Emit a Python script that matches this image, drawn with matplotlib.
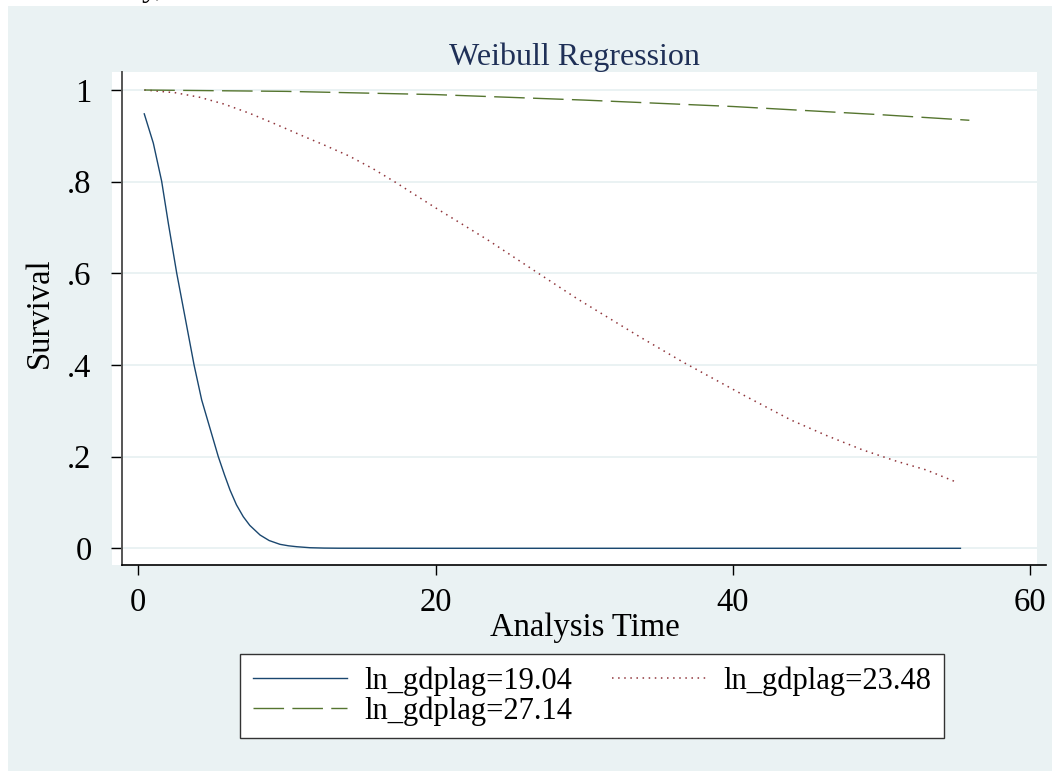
import numpy as np
import matplotlib.pyplot as plt
from matplotlib.patches import Rectangle
from matplotlib.lines import Line2D

plt.rcParams['font.family'] = ['Liberation Serif', 'DejaVu Serif']

# survival curves
t_low = [0.40, 1.01, 1.57, 2.02, 2.58, 3.14, 3.75, 4.26, 4.82, 5.38, 5.8, 6.17, 6.6,
         7.06, 7.5, 8.19, 8.8, 9.53, 10.1, 10.66, 11.55, 12.5, 13.5, 20.0, 30.0,
         40.0, 50.0, 55.3]
s_low = [0.948, 0.884, 0.801, 0.709, 0.601, 0.505, 0.400, 0.324, 0.262, 0.200, 0.160,
         0.127, 0.095, 0.069, 0.050, 0.029, 0.017, 0.0087, 0.0055, 0.0035, 0.0013,
         0.0005, 0.0002, 0.0, 0.0, 0.0, 0.0, 0.0]

t_mid = [0.4, 0.8, 2.5, 4.15, 5.8, 7.5, 9.2, 10.9, 12.5, 14.18, 15.8, 17.33, 19.89,
         23.5, 27.1, 29.5, 33.7, 36.6, 40.9, 43.9, 46.3, 48.7, 51.0, 53.0, 55.06]
s_mid = [1.0, 0.999, 0.994, 0.984, 0.969, 0.949, 0.926, 0.902, 0.880, 0.856, 0.828,
         0.798, 0.745, 0.673, 0.596, 0.545, 0.462, 0.407, 0.331, 0.280, 0.246,
         0.215, 0.190, 0.171, 0.144]

t_high = [0.4, 10.0, 20.0, 30.0, 40.0, 50.0, 55.9]
s_high = [1.0, 0.997, 0.990, 0.978, 0.964, 0.946, 0.934]

labels = ['ln_gdplag=19.04', 'ln_gdplag=23.48', 'ln_gdplag=27.14']
y_ticks = [0, 0.2, 0.4, 0.6, 0.8, 1.0]
y_ticklabels = ['0', '.2', '.4', '.6', '.8', '1']
x_ticks = [0, 20, 40, 60]

W, H = 1052, 771
bg = '#EAF2F3'
fs = 23.5

fig = plt.figure(figsize=(W / 100, H / 100), dpi=100)
fig.patch.set_facecolor('white')
fig.patches.append(Rectangle((8 / W, 0), 1 - 8 / W, (H - 6) / H,
                             transform=fig.transFigure, facecolor=bg,
                             edgecolor='none', zorder=-10))
# text from above, cut off by the top edge like in the original
fig.text(142 / W, 1 + 4 / H, 'y,', fontsize=fs, va='baseline', ha='left')

ax = fig.add_axes([112 / W, 206 / H, 925 / W, 493 / H])
ax.set_facecolor('white')
ax.set_xlim(-1.77, 60.45)
ax.set_ylim(-0.0364, 1.0393)

for y in y_ticks:
    ax.axhline(y, color=bg, lw=1.4, zorder=0)

ax.plot(t_low, s_low, color='#1A476F', lw=1.0, label=labels[0])
ax.plot(t_mid, s_mid, color='#90353B', lw=1.1, ls=(0, (1, 3)), label=labels[1])
ax.plot(t_high, s_high, color='#55752F', lw=1.0, ls=(0, (22, 6)), label=labels[2])

for side in ['top', 'right', 'bottom']:
    ax.spines[side].set_visible(False)
ax.spines['left'].set_position(('data', -1.09))
ax.spines['left'].set_color('#555555')
ax.spines['left'].set_linewidth(1.4)
fig.add_artist(Line2D([122 / W, 1046 / W], [206 / H, 206 / H], color='black',
                      lw=1.2, transform=fig.transFigure))

ax.set_yticks(y_ticks)
ax.set_yticklabels(y_ticklabels)
ax.set_xticks(x_ticks)
ax.tick_params(axis='y', length=8, width=1.0, pad=14, labelsize=fs, colors='black')
ax.tick_params(axis='x', length=7.5, width=1.0, pad=9, labelsize=fs)

ax.set_title('Weibull Regression', fontsize=23, color='#1F3057', pad=4)
fig.text(40 / W, 1 - 313 / H, 'Survival', rotation=90, fontsize=fs,
         ha='center', va='center')
fig.text(585 / W, 1 - 628 / H, 'Analysis Time', fontsize=fs,
         ha='center', va='center')

h, l = ax.get_legend_handles_labels()
order = [0, 2, 1]
leg = fig.legend([h[i] for i in order], [l[i] for i in order], ncol=2,
                 loc='center', bbox_to_anchor=(592 / W, 1 - 696 / H),
                 fontsize=22, frameon=True, fancybox=False, handlelength=3.1,
                 handletextpad=0.55, columnspacing=1.3, labelspacing=0.0,
                 borderpad=0.4)
leg.get_frame().set_edgecolor('#333333')
leg.get_frame().set_linewidth(1.0)
leg.get_frame().set_facecolor('white')
leg.get_frame().set_alpha(1)

fig.savefig('out.png', dpi=100, facecolor=fig.get_facecolor())
